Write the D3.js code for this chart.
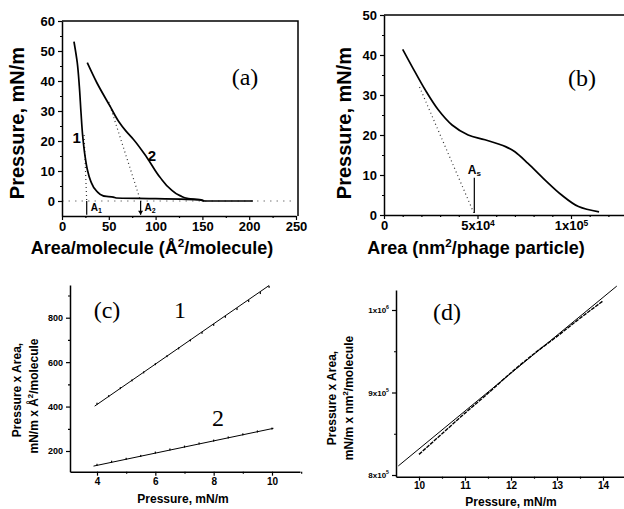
<!DOCTYPE html>
<html>
<head>
<meta charset="utf-8">
<script src="https://cdnjs.cloudflare.com/ajax/libs/d3/7.8.5/d3.min.js"></script>
<style>
body { margin: 0; background: #fff; }
svg { display: block; }
</style>
</head>
<body>
<svg id="chart" width="624" height="509"></svg>
<script>
var sans = "'Liberation Sans', Arial, sans-serif"
var serif = "'Liberation Serif', 'Times New Roman', serif"

// (a) pressure vs area per molecule, two isotherms
var aIso1 = [[12.8,53.1],[16.3,46.1],[18.5,38.3],[20.3,29.5],[22.1,21.7],[24.6,15],[27,10.6],[30.6,6.7],[37,3.3],[44.1,1.7],[54.8,1.3],[58,1],[100,0.8],[147,0.4],[152,0]]
var aIso2 = [[27,46.1],[37.1,39.5],[51.3,31.6],[60.2,26.7],[68.4,23.3],[76.2,20.6],[90.5,14.6],[104.7,7.9],[115.4,4.1],[126,1.8],[135,0.8],[147,0.5],[152,0],[204,0]]
var aTan1 = [[23.6,22],[26.4,0]]
var aTan2 = [[50,33],[84,0]]
var aLimits = [26.4, 84]
var aTicksX = [0,50,100,150,200,250]
var aTicksY = [0,10,20,30,40,50,60]

// (b) pressure vs area per phage particle
var bIso = [[1.0e4,41.4],[1.5e4,37.1],[2.2e4,31.3],[2.9e4,26.3],[3.64e4,22.5],[4.5e4,20],[5.4e4,18.8],[6.5e4,17.1],[7.0e4,15.8],[7.7e4,12.9],[8.6e4,8.8],[9.5e4,5],[1.04e5,2.1],[1.15e5,0.8]]
var bTan = [[1.9e4,32],[4.85e4,0]]
var bLimit = 4.83e4
var bTicksX = [0,50000,100000]
var bTicksY = [0,10,20,30,40,50]

// (c) pressure x area vs pressure
var cFit1 = [[3.92,402],[9.9,945]]
var cFit2 = [[3.88,132],[10.05,302]]
var cData1 = [[4.0,412],[4.4,446],[4.8,482],[5.2,517],[5.6,553],[6.0,590],[6.4,626],[6.8,661],[7.2,697],[7.6,731],[8.0,767],[8.4,803],[8.8,838],[9.2,874],[9.6,910],[9.9,938]]
var cData2 = [[4.0,137],[4.5,151],[5.0,164],[5.5,177],[6.0,192],[6.5,206],[7.0,219],[7.5,233],[8.0,246],[8.5,260],[9.0,274],[9.5,287],[10.0,300]]
var cTicksX = [4,6,8,10]
var cMinorX = [5,7,9,11]
var cTicksY = [200,400,600,800]
var cMinorY = [300,500,700,900]

// (d) pressure x area vs pressure, phage
var dFit = [[9.55,8.11e5],[14.3,1.029e6]]
var dData = [[10.0,8.25e5],[10.5,8.5e5],[11.0,8.75e5],[11.5,8.99e5],[12.0,9.24e5],[12.5,9.47e5],[13.0,9.68e5],[13.5,9.9e5],[14.0,1.011e6]]
var dTicksX = [10,11,12,13,14]
var dMinorX = [10.5,11.5,12.5,13.5]
var dTicksY = [800000,900000,1000000]
var dMinorY = [850000,950000]

var svg = d3.select("#chart")

function lineGen(xs, ys, curve) {
    return d3.line()
        .x(function(d) { return xs(d[0]) })
        .y(function(d) { return ys(d[1]) })
        .curve(curve || d3.curveLinear)
}

function drawAxis(tx, ty, make, major, minor, fmt, fs, pad) {
    var g = svg.append("g").attr("transform", "translate(" + tx + "," + ty + ")")
    var m = g.append("g").call(make().tickValues(major).tickSize(4).tickSizeOuter(0).tickPadding(pad || 3).tickFormat(fmt))
    g.append("g").call(make().tickValues(minor).tickSize(2).tickSizeOuter(0).tickFormat(""))
        .select(".domain").remove()
    m.selectAll("text")
        .attr("font-family", sans)
        .attr("font-weight", "bold")
        .attr("font-size", fs)
        .attr("fill", "#000")
    g.selectAll(".domain").attr("stroke-width", 1.5)
    g.selectAll(".tick line").attr("stroke-width", 1.2)
    return m
}

// turn "5x10" + exponent into a label with superscript
function supLabels(m, labels) {
    m.selectAll(".tick text").each(function(d) {
        var l = labels[d]
        if (!l) return
        var t = d3.select(this).text(null)
        t.append("tspan").text(l[0])
        t.append("tspan").attr("dy", -4).attr("font-size", "0.65em").text(l[1])
    })
}

function title(x, y, txt, fs, rot) {
    var t = svg.append("text")
        .attr("transform", "translate(" + x + "," + y + ")" + (rot ? " rotate(-90)" : ""))
        .attr("text-anchor", "middle")
        .attr("dy", "0.35em")
        .attr("font-family", sans)
        .attr("font-weight", "bold")
        .attr("font-size", fs)
    txt.forEach(function(p) {
        var s = t.append("tspan").text(p[0])
        if (p[1] == "sup") s.attr("dy", -fs * 0.4).attr("font-size", fs * 0.65)
        if (p[1] == "back") s.attr("dy", fs * 0.4)
    })
    return t
}

function tag(x, y, txt, fs) {
    svg.append("text").attr("x", x).attr("y", y)
        .attr("text-anchor", "middle").attr("dy", "0.35em")
        .attr("font-family", serif).attr("font-size", fs)
        .text(txt)
}

// ---------- panel (a) ----------
var xa = d3.scaleLinear().domain([0, 250]).range([62, 296])
var ya = d3.scaleLinear().domain([-5, 60]).range([216, 21])

svg.append("path").attr("d", lineGen(xa, ya)([[0, 0], [250, 0]]))
    .attr("fill", "none").attr("stroke", "#777").attr("stroke-width", 1.2).attr("stroke-dasharray", "1.5,5")
svg.append("path").attr("d", "M" + xa(0) + "," + ya(60) + "H" + 298 + "V" + ya(-5))
    .attr("fill", "none").attr("stroke", "#000").attr("stroke-width", 1.5)

drawAxis(0, ya(-5), function() { return d3.axisBottom(xa) }, aTicksX, [25,75,125,175,225], d3.format("d"), 13, 2)
drawAxis(xa(0), 0, function() { return d3.axisLeft(ya) }, aTicksY, [5,15,25,35,45,55], d3.format("d"), 13)

;[aTan1, aTan2].forEach(function(t) {
    svg.append("path").attr("d", lineGen(xa, ya)(t))
        .attr("fill", "none").attr("stroke", "#333").attr("stroke-width", 1.2).attr("stroke-dasharray", "1,3")
})
;[aIso1, aIso2].forEach(function(c) {
    svg.append("path").attr("d", lineGen(xa, ya, d3.curveMonotoneY)(c))
        .attr("fill", "none").attr("stroke", "#000").attr("stroke-width", 1.7)
})
aLimits.forEach(function(v, i) {
    svg.append("line").attr("x1", xa(v)).attr("x2", xa(v)).attr("y1", ya(0)).attr("y2", ya(-4.6))
        .attr("stroke", "#000").attr("stroke-width", 1.2)
    svg.append("text").attr("x", xa(v) + 4).attr("y", ya(-3.3))
        .attr("font-family", sans).attr("font-weight", "bold").attr("font-size", 10)
        .text("A").append("tspan").attr("dy", 2).attr("font-size", 7).text(i + 1)
})
svg.append("path").attr("d", "M" + (xa(84) - 2.5) + "," + (ya(-4.6) - 4) + "l2.5,4l2.5,-4z")

tag(245, 77, "(a)", 24)
svg.append("text").attr("x", xa(15.7)).attr("y", ya(21)).attr("text-anchor", "middle").attr("dy", "0.35em")
    .attr("font-family", sans).attr("font-weight", "bold").attr("font-size", 15).text("1")
svg.append("text").attr("x", xa(96)).attr("y", ya(15)).attr("text-anchor", "middle").attr("dy", "0.35em")
    .attr("font-family", sans).attr("font-weight", "bold").attr("font-size", 15).text("2")

title(17, 123, [["Pressure, mN/m"]], 20, true)
title(152, 248, [["Area/molecule (Å"], ["2", "sup"], ["/molecule)", "back"]], 18)

// ---------- panel (b) ----------
var xb = d3.scaleLinear().domain([0, 1e5]).range([384, 571])
var yb = d3.scaleLinear().domain([0, 50]).range([215, 15])
var xbFull = xb.copy().domain([0, xb.invert(624)]).range([384, 624])

svg.append("line").attr("x1", 384).attr("x2", 624).attr("y1", yb(50)).attr("y2", yb(50))
    .attr("stroke", "#000").attr("stroke-width", 1.5)
var mb = drawAxis(0, yb(0), function() { return d3.axisBottom(xbFull) }, bTicksX,
    [1e4,2e4,3e4,4e4,6e4,7e4,8e4,9e4,1.1e5,1.2e5], d3.format("d"), 13, 2)
supLabels(mb, { "50000": ["5x10", "4"], "100000": ["1x10", "5"] })
drawAxis(384, 0, function() { return d3.axisLeft(yb) }, bTicksY, [5,15,25,35,45], d3.format("d"), 13)

svg.append("path").attr("d", lineGen(xb, yb)(bTan))
    .attr("fill", "none").attr("stroke", "#333").attr("stroke-width", 1.2).attr("stroke-dasharray", "1,3")
svg.append("path").attr("d", lineGen(xb, yb, d3.curveCatmullRom)(bIso))
    .attr("fill", "none").attr("stroke", "#000").attr("stroke-width", 1.7)
svg.append("line").attr("x1", xb(bLimit)).attr("x2", xb(bLimit)).attr("y1", yb(9.3)).attr("y2", yb(0.5))
    .attr("stroke", "#000").attr("stroke-width", 1.2)
svg.append("text").attr("x", xb(bLimit)).attr("y", yb(10.2))
    .attr("text-anchor", "middle")
    .attr("font-family", sans).attr("font-weight", "bold").attr("font-size", 12)
    .text("A").append("tspan").attr("dy", 2).attr("font-size", 8).text("s")

tag(582, 78, "(b)", 24)
title(344, 123, [["Pressure, mN/m"]], 20, true)
title(476, 248, [["Area (nm"], ["2", "sup"], ["/phage particle)", "back"]], 18)

// ---------- panel (c) ----------
var xc = d3.scaleLinear().domain([4, 10]).range([97, 272])
xc.domain([xc.invert(70), xc.invert(300)]).range([70, 300])
var yc = d3.scaleLinear().domain([200, 800]).range([451, 317.7])
yc.domain([yc.invert(471.7), yc.invert(285)]).range([471.7, 285])

drawAxis(0, 471.7, function() { return d3.axisBottom(xc) }, cTicksX, cMinorX, d3.format("d"), 10, 2)
drawAxis(70, 0, function() { return d3.axisLeft(yc) }, cTicksY, cMinorY, d3.format("d"), 9)

;[cFit1, cFit2].forEach(function(f) {
    svg.append("path").attr("d", lineGen(xc, yc)(f))
        .attr("fill", "none").attr("stroke", "#000").attr("stroke-width", 1)
})
;[cData1, cData2].forEach(function(s) {
    svg.selectAll(null).data(s).enter().append("rect")
        .attr("x", function(d) { return xc(d[0]) - 0.6 })
        .attr("y", function(d) { return yc(d[1]) - 1.2 })
        .attr("width", 1.2).attr("height", 2).attr("fill", "#000")
})

tag(107, 310, "(c)", 24)
tag(180, 310, "1", 24)
tag(218, 418, "2", 24)
title(17, 390, [["Pressure x Area,"]], 12, true)
title(34, 396, [["mN/m x Å"], ["2", "sup"], ["/molecule", "back"]], 12, true)
title(183, 499, [["Pressure, mN/m"]], 12)

// ---------- panel (d) ----------
var xd = d3.scaleLinear().domain([9.5, 14.5]).range([396, 626])
var yd = d3.scaleLinear().domain([8e5, 1e6]).range([475, 310])
yd.domain([yd.invert(476.7), yd.invert(290)]).range([476.7, 290])

drawAxis(0, 476.7, function() { return d3.axisBottom(xd) }, dTicksX, dMinorX, d3.format("d"), 10, 1)
var md = drawAxis(396, 0, function() { return d3.axisLeft(yd) }, dTicksY, dMinorY, d3.format("d"), 8)
supLabels(md, { "800000": ["8x10", "5"], "900000": ["9x10", "5"], "1000000": ["1x10", "6"] })

svg.append("path").attr("d", lineGen(xd, yd)(dFit))
    .attr("fill", "none").attr("stroke", "#000").attr("stroke-width", 1)
svg.append("path").attr("d", lineGen(xd, yd, d3.curveMonotoneX)(dData))
    .attr("fill", "none").attr("stroke", "#000").attr("stroke-width", 1.4).attr("stroke-dasharray", "4,1")

tag(447, 312, "(d)", 24)
title(332, 398, [["Pressure x Area,"]], 12, true)
title(349, 398, [["mN/m x nm"], ["2", "sup"], ["/molecule", "back"]], 12, true)
title(511, 502, [["Pressure, mN/m"]], 12)
</script>
</body>
</html>
